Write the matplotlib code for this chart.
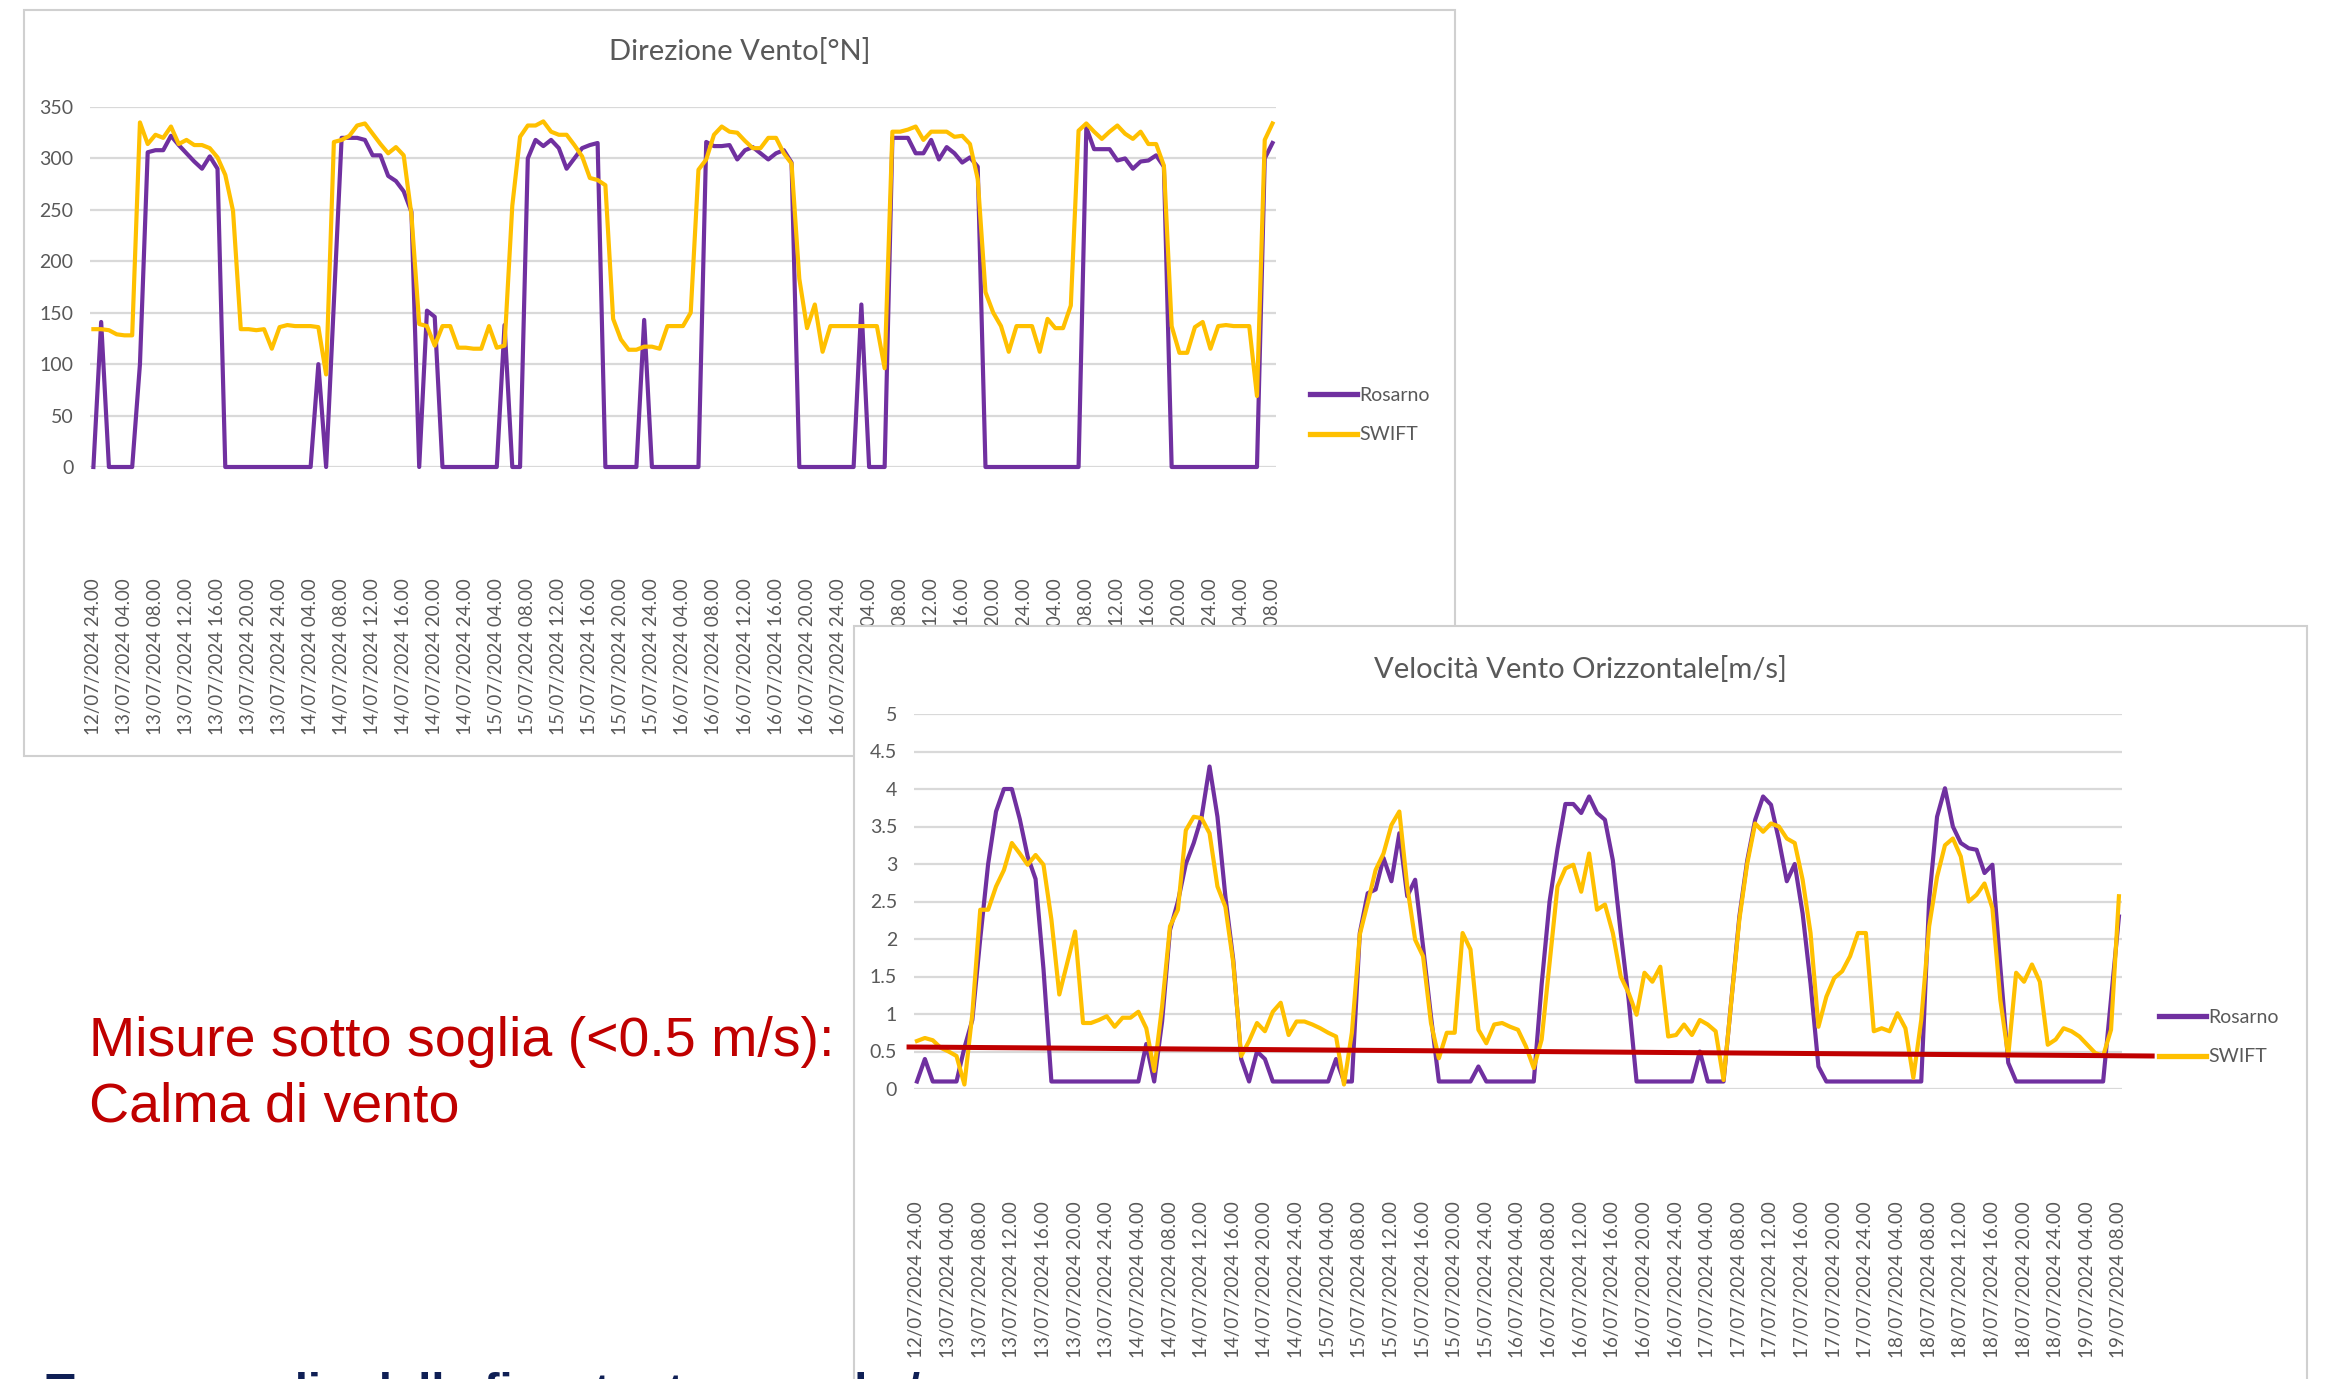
import matplotlib.pyplot as plt
from matplotlib.patches import Rectangle
import numpy as np

plt.rcParams['font.family'] = ['Lato', 'DejaVu Sans']

# hourly samples from 12/07/2024 24.00 to 19/07/2024 08.00 (153 points)
tick_labels = [
    "12/07/2024 24.00",
    "13/07/2024 04.00", "13/07/2024 08.00", "13/07/2024 12.00",
    "13/07/2024 16.00", "13/07/2024 20.00", "13/07/2024 24.00",
    "14/07/2024 04.00", "14/07/2024 08.00", "14/07/2024 12.00",
    "14/07/2024 16.00", "14/07/2024 20.00", "14/07/2024 24.00",
    "15/07/2024 04.00", "15/07/2024 08.00", "15/07/2024 12.00",
    "15/07/2024 16.00", "15/07/2024 20.00", "15/07/2024 24.00",
    "16/07/2024 04.00", "16/07/2024 08.00", "16/07/2024 12.00",
    "16/07/2024 16.00", "16/07/2024 20.00", "16/07/2024 24.00",
    "17/07/2024 04.00", "17/07/2024 08.00", "17/07/2024 12.00",
    "17/07/2024 16.00", "17/07/2024 20.00", "17/07/2024 24.00",
    "18/07/2024 04.00", "18/07/2024 08.00", "18/07/2024 12.00",
    "18/07/2024 16.00", "18/07/2024 20.00", "18/07/2024 24.00",
    "19/07/2024 04.00", "19/07/2024 08.00",
]

# Direzione Vento [°N]
dir_rosarno = [
    0, 141, 0, 0, 0, 0, 100, 306, 308, 308,
    322, 313, 305, 297, 290, 302, 290, 0, 0, 0,
    0, 0, 0, 0, 0, 0, 0, 0, 0, 100,
    0, 160, 320, 320, 320, 318, 303, 303, 283, 278,
    268, 248, 0, 152, 146, 0, 0, 0, 0, 0,
    0, 0, 0, 138, 0, 0, 300, 318, 312, 318,
    310, 290, 300, 310, 313, 315, 0, 0, 0, 0,
    0, 143, 0, 0, 0, 0, 0, 0, 0, 316,
    312, 312, 313, 299, 308, 311, 305, 299, 305, 308,
    296, 0, 0, 0, 0, 0, 0, 0, 0, 158,
    0, 0, 0, 320, 320, 320, 305, 305, 318, 299,
    311, 305, 296, 301, 292, 0, 0, 0, 0, 0,
    0, 0, 0, 0, 0, 0, 0, 0, 330, 309,
    309, 309, 298, 300, 290, 297, 298, 303, 292, 0,
    0, 0, 0, 0, 0, 0, 0, 0, 0, 0,
    0, 300, 315,
]
dir_swift = [
    134, 134, 133, 129, 128, 128, 335, 314, 323, 320,
    331, 314, 318, 313, 313, 310, 301, 284, 249, 134,
    134, 133, 134, 115, 136, 138, 137, 137, 137, 136,
    90, 316, 318, 322, 332, 334, 324, 314, 305, 311,
    303, 245, 139, 137, 118, 137, 137, 116, 116, 115,
    115, 137, 116, 118, 254, 321, 332, 332, 336, 326,
    323, 323, 313, 302, 281, 279, 274, 144, 124, 114,
    114, 117, 117, 115, 137, 137, 137, 150, 289, 299,
    323, 331, 326, 325, 317, 310, 310, 320, 320, 305,
    295, 183, 135, 158, 112, 137, 137, 137, 137, 137,
    137, 137, 96, 326, 326, 328, 331, 318, 326, 326,
    326, 321, 322, 314, 280, 170, 150, 137, 112, 137,
    137, 137, 112, 144, 135, 135, 157, 327, 334, 326,
    319, 326, 332, 324, 319, 326, 314, 314, 293, 137,
    111, 111, 136, 141, 115, 137, 138, 137, 137, 137,
    69, 318, 334,
]

# Velocità Vento Orizzontale [m/s]
spd_rosarno = [
    0.1, 0.4, 0.1, 0.1, 0.1, 0.1, 0.55, 0.92, 2.0, 3.0,
    3.7, 4.0, 4.0, 3.6, 3.1, 2.8, 1.6, 0.1, 0.1, 0.1,
    0.1, 0.1, 0.1, 0.1, 0.1, 0.1, 0.1, 0.1, 0.1, 0.6,
    0.1, 0.9, 2.12, 2.5, 3.0, 3.28, 3.63, 4.3, 3.63, 2.57,
    1.72, 0.4, 0.1, 0.5, 0.4, 0.1, 0.1, 0.1, 0.1, 0.1,
    0.1, 0.1, 0.1, 0.4, 0.1, 0.1, 2.08, 2.61, 2.66, 3.08,
    2.77, 3.41, 2.57, 2.79, 1.9, 0.97, 0.1, 0.1, 0.1, 0.1,
    0.1, 0.3, 0.1, 0.1, 0.1, 0.1, 0.1, 0.1, 0.1, 1.4,
    2.5, 3.2, 3.8, 3.8, 3.68, 3.9, 3.68, 3.59, 3.05, 2.08,
    1.19, 0.1, 0.1, 0.1, 0.1, 0.1, 0.1, 0.1, 0.1, 0.5,
    0.1, 0.1, 0.1, 1.2, 2.3, 3.05, 3.59, 3.9, 3.79, 3.32,
    2.77, 3.0, 2.34, 1.41, 0.3, 0.1, 0.1, 0.1, 0.1, 0.1,
    0.1, 0.1, 0.1, 0.1, 0.1, 0.1, 0.1, 0.1, 2.52, 3.63,
    4.01, 3.5, 3.28, 3.21, 3.19, 2.88, 2.99, 1.63, 0.35, 0.1,
    0.1, 0.1, 0.1, 0.1, 0.1, 0.1, 0.1, 0.1, 0.1, 0.1,
    0.1, 1.2, 2.3,
]
spd_swift = [
    0.64, 0.68, 0.65, 0.55, 0.5, 0.44, 0.06, 1.0, 2.39, 2.39,
    2.7, 2.92, 3.28, 3.14, 2.99, 3.12, 2.99, 2.26, 1.26, 1.68,
    2.1, 0.88, 0.88, 0.92, 0.97, 0.83, 0.95, 0.95, 1.03, 0.81,
    0.24, 1.1, 2.17, 2.39, 3.45, 3.63, 3.61, 3.41, 2.7, 2.43,
    1.68, 0.44, 0.64, 0.88, 0.77, 1.03, 1.15, 0.72, 0.9, 0.9,
    0.86, 0.81, 0.75, 0.7, 0.06, 0.75, 2.06, 2.48, 2.92, 3.14,
    3.52, 3.7, 2.7, 1.99, 1.77, 0.88, 0.41, 0.75, 0.75, 2.08,
    1.86, 0.79, 0.61, 0.86, 0.88, 0.83, 0.79, 0.57, 0.28, 0.66,
    1.68, 2.7, 2.94, 2.99, 2.63, 3.14, 2.39, 2.46, 2.08, 1.5,
    1.28, 0.99, 1.55, 1.43, 1.63, 0.7, 0.72, 0.86, 0.72, 0.92,
    0.86, 0.77, 0.12, 1.19, 2.26, 3.01, 3.54, 3.43, 3.54, 3.5,
    3.34, 3.28, 2.79, 2.08, 0.83, 1.23, 1.48, 1.57, 1.77, 2.08,
    2.08, 0.77, 0.81, 0.77, 1.01, 0.81, 0.15, 0.92, 2.17, 2.83,
    3.25, 3.34, 3.1, 2.5, 2.59, 2.74, 2.41, 1.19, 0.44, 1.55,
    1.43, 1.66, 1.43, 0.59, 0.66, 0.81, 0.77, 0.7, 0.59, 0.48,
    0.44, 0.79, 2.57,
]

# hand-drawn threshold line (0.5 m/s) on the speed chart
threshold_x = [-1.0, 156.2]
threshold_y = [0.56, 0.44]

hours = np.arange(len(dir_rosarno))

PURPLE = '#7030A0'
GOLD = '#FFC000'
GREY_TXT = '#595959'
GRID = '#d9d9d9'

W, H = 2325, 1379
fig = plt.figure(figsize=(W / 100, H / 100), dpi=100)


def fx(px):
    return px / W


def fy(py):
    return 1 - py / H


# panel frames
fig.add_artist(Rectangle((fx(24), fy(756)), (1455 - 24) / W, (756 - 10) / H,
                         transform=fig.transFigure, facecolor='white',
                         edgecolor='#d0d0d0', lw=1.5, zorder=-1))
fig.add_artist(Rectangle((fx(854), fy(1420)), (2307 - 854) / W, (1420 - 626) / H,
                         transform=fig.transFigure, facecolor='white',
                         edgecolor='#d0d0d0', lw=1.5, zorder=1))


def style_axis(ax, ylim, yticks, pad_x):
    ax.set_xlim(-0.4, 152.4)
    ax.set_ylim(*ylim)
    ax.set_yticks(yticks)
    ax.set_xticks(range(0, len(hours), 4))
    ax.set_xticklabels(tick_labels, rotation=90)
    ax.grid(axis='y', color=GRID, lw=1.6)
    ax.set_axisbelow(True)
    for s in ax.spines.values():
        s.set_visible(False)
    ax.tick_params(axis='y', length=0, pad=12, labelsize=14, labelcolor=GREY_TXT)
    ax.tick_params(axis='x', length=0, pad=pad_x, labelsize=13.5, labelcolor=GREY_TXT)
    ax.set_facecolor('none')


def draw_series(ax, ros, swi, legend_xy):
    ax.plot(hours, ros, color=PURPLE, lw=3.0, clip_on=False,
            solid_joinstyle='round', label='Rosarno')
    ax.plot(hours, swi, color=GOLD, lw=3.0, clip_on=False,
            solid_joinstyle='round', label='SWIFT')
    leg = ax.legend(loc='upper left', bbox_to_anchor=legend_xy,
                    bbox_transform=fig.transFigure, frameon=False,
                    fontsize=14, handlelength=2.4, handletextpad=0.15,
                    labelspacing=1.15, borderpad=0, borderaxespad=0)
    for t in leg.get_texts():
        t.set_color(GREY_TXT)
    for l in leg.get_lines():
        l.set_linewidth(3.8)


# --- top chart: direction
ax1 = fig.add_axes([fx(90.3), fy(467), 1185.3 / W, 360 / H], zorder=0)
style_axis(ax1, (0, 350), range(0, 351, 50), 80)
draw_series(ax1, dir_rosarno, dir_swift, (fx(1310), fy(387)))
fig.text(fx(739.5), fy(52), 'Direzione Vento[°N]', ha='center', va='center',
         fontsize=21, color=GREY_TXT)

# --- bottom chart: speed
ax2 = fig.add_axes([fx(913.8), fy(1089), 1208.3 / W, 375 / H], zorder=2)
style_axis(ax2, (0, 5), np.arange(0, 5.01, 0.5), 80.5)
ax2.set_yticklabels(['0', '0.5', '1', '1.5', '2', '2.5', '3', '3.5', '4', '4.5', '5'])
draw_series(ax2, spd_rosarno, spd_swift, (fx(2159), fy(1009)))
ax2.plot(threshold_x, threshold_y, color='#C00000', lw=3.6, clip_on=False, zorder=5)
fig.text(fx(1580), fy(669), 'Velocità Vento Orizzontale[m/s]', ha='center',
         va='center', fontsize=21, color=GREY_TXT, zorder=3)

# --- annotations on the slide
red_font = dict(family=['Liberation Sans', 'DejaVu Sans'], fontsize=40,
                color='#C00000', va='baseline', ha='left', zorder=3)
fig.text(fx(89), fy(1056), 'Misure sotto soglia (<0.5 m/s):', **red_font)
fig.text(fx(89), fy(1122), 'Calma di vento', **red_font)
fig.text(fx(46), fy(1372), 'Tempo medio della finestra temporale / ', ha='left',
         va='top', fontsize=34, fontweight='bold', color='#0F1F55',
         family=['Liberation Sans', 'DejaVu Sans'], zorder=3)

fig.savefig('out.png', dpi=100)
